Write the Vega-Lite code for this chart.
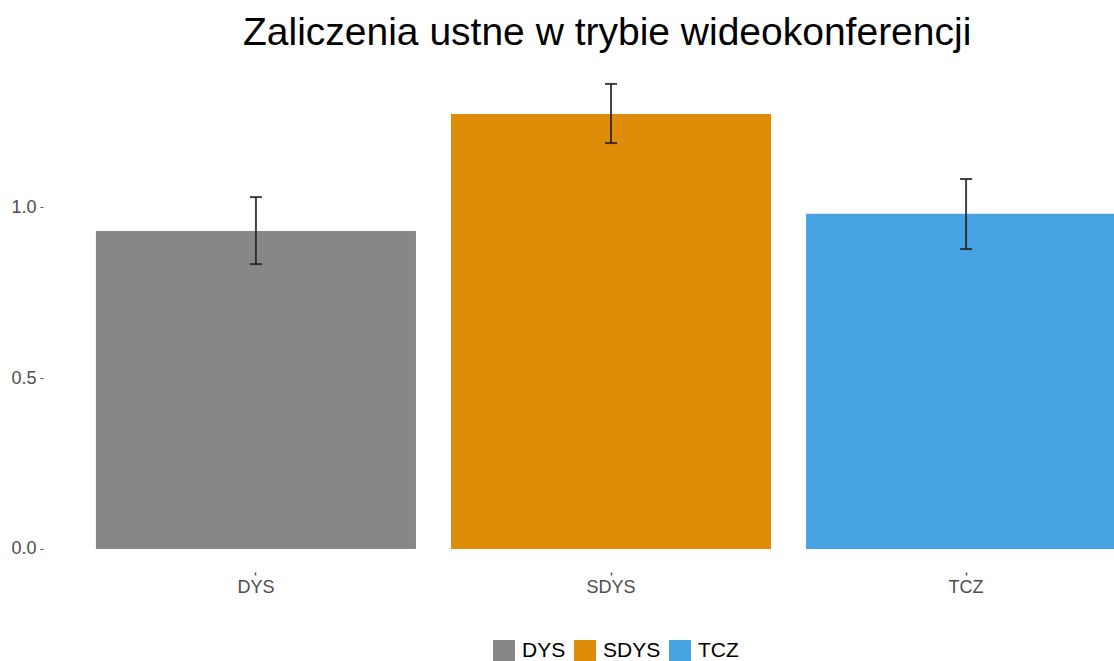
{
  "$schema": "https://vega.github.io/schema/vega-lite/v6.json",
  "autosize": {"type": "none"},
  "width": 1136,
  "height": 511,
  "padding": {"left": 43, "top": 61, "right": 0, "bottom": 89},
  "background": "white",
  "config": {"view": {"stroke": null}, "font": "Liberation Sans"},
  "title": {
    "text": "Zaliczenia ustne w trybie wideokonferencji",
    "fontSize": 39,
    "fontWeight": "normal",
    "color": "#000000",
    "anchor": "start",
    "dx": 232,
    "offset": 8,
    "font": "Liberation Sans"
  },
  "data": {
    "values": [
      {"grupa": "DYS", "mean": 0.930, "lo": 0.833, "hi": 1.029},
      {"grupa": "SDYS", "mean": 1.272, "lo": 1.187, "hi": 1.360},
      {"grupa": "TCZ", "mean": 0.980, "lo": 0.877, "hi": 1.082}
    ]
  },
  "encoding": {
    "x": {
      "field": "grupa",
      "type": "nominal",
      "scale": {"paddingInner": 0.0986, "paddingOuter": 0.149},
      "axis": {
        "title": null,
        "domain": false,
        "ticks": true,
        "tickSize": 3,
        "tickColor": "#555555",
        "tickWidth": 1.5,
        "labelAngle": 0,
        "labelFontSize": 18,
        "labelColor": "#4d4d4d",
        "labelPadding": 3
      }
    }
  },
  "layer": [
    {
      "mark": {"type": "bar"},
      "encoding": {
        "y": {
          "field": "mean",
          "type": "quantitative",
          "scale": {"domain": [-0.0673, 1.427], "nice": false, "zero": false},
          "axis": {
            "title": null,
            "domain": false,
            "grid": false,
            "values": [0, 0.5, 1],
            "format": ".1f",
            "tickSize": 3,
            "tickColor": "#555555",
            "labelFontSize": 18,
            "labelColor": "#4d4d4d",
            "labelPadding": 4
          }
        },
        "y2": {"datum": 0},
        "color": {
          "field": "grupa",
          "type": "nominal",
          "scale": {"domain": ["DYS", "SDYS", "TCZ"], "range": ["#878787", "#DF8D08", "#48A3E2"]},
          "legend": {
            "title": null,
            "orient": "none",
            "direction": "horizontal",
            "legendX": 450,
            "legendY": 579,
            "symbolType": "square",
            "symbolSize": 484,
            "symbolStrokeWidth": 0,
            "symbolOpacity": 1,
            "labelFontSize": 21,
            "labelColor": "#000000",
            "labelOffset": 7,
            "columnPadding": 8
          }
        }
      }
    },
    {
      "mark": {"type": "rule", "color": "#222222", "strokeWidth": 2, "opacity": 0.85},
      "encoding": {
        "y": {"field": "lo", "type": "quantitative"},
        "y2": {"field": "hi"}
      }
    },
    {
      "mark": {"type": "tick", "color": "#222222", "size": 12, "thickness": 2, "opacity": 0.85},
      "encoding": {
        "y": {"field": "lo", "type": "quantitative"}
      }
    },
    {
      "mark": {"type": "tick", "color": "#222222", "size": 12, "thickness": 2, "opacity": 0.85},
      "encoding": {
        "y": {"field": "hi", "type": "quantitative"}
      }
    }
  ]
}
